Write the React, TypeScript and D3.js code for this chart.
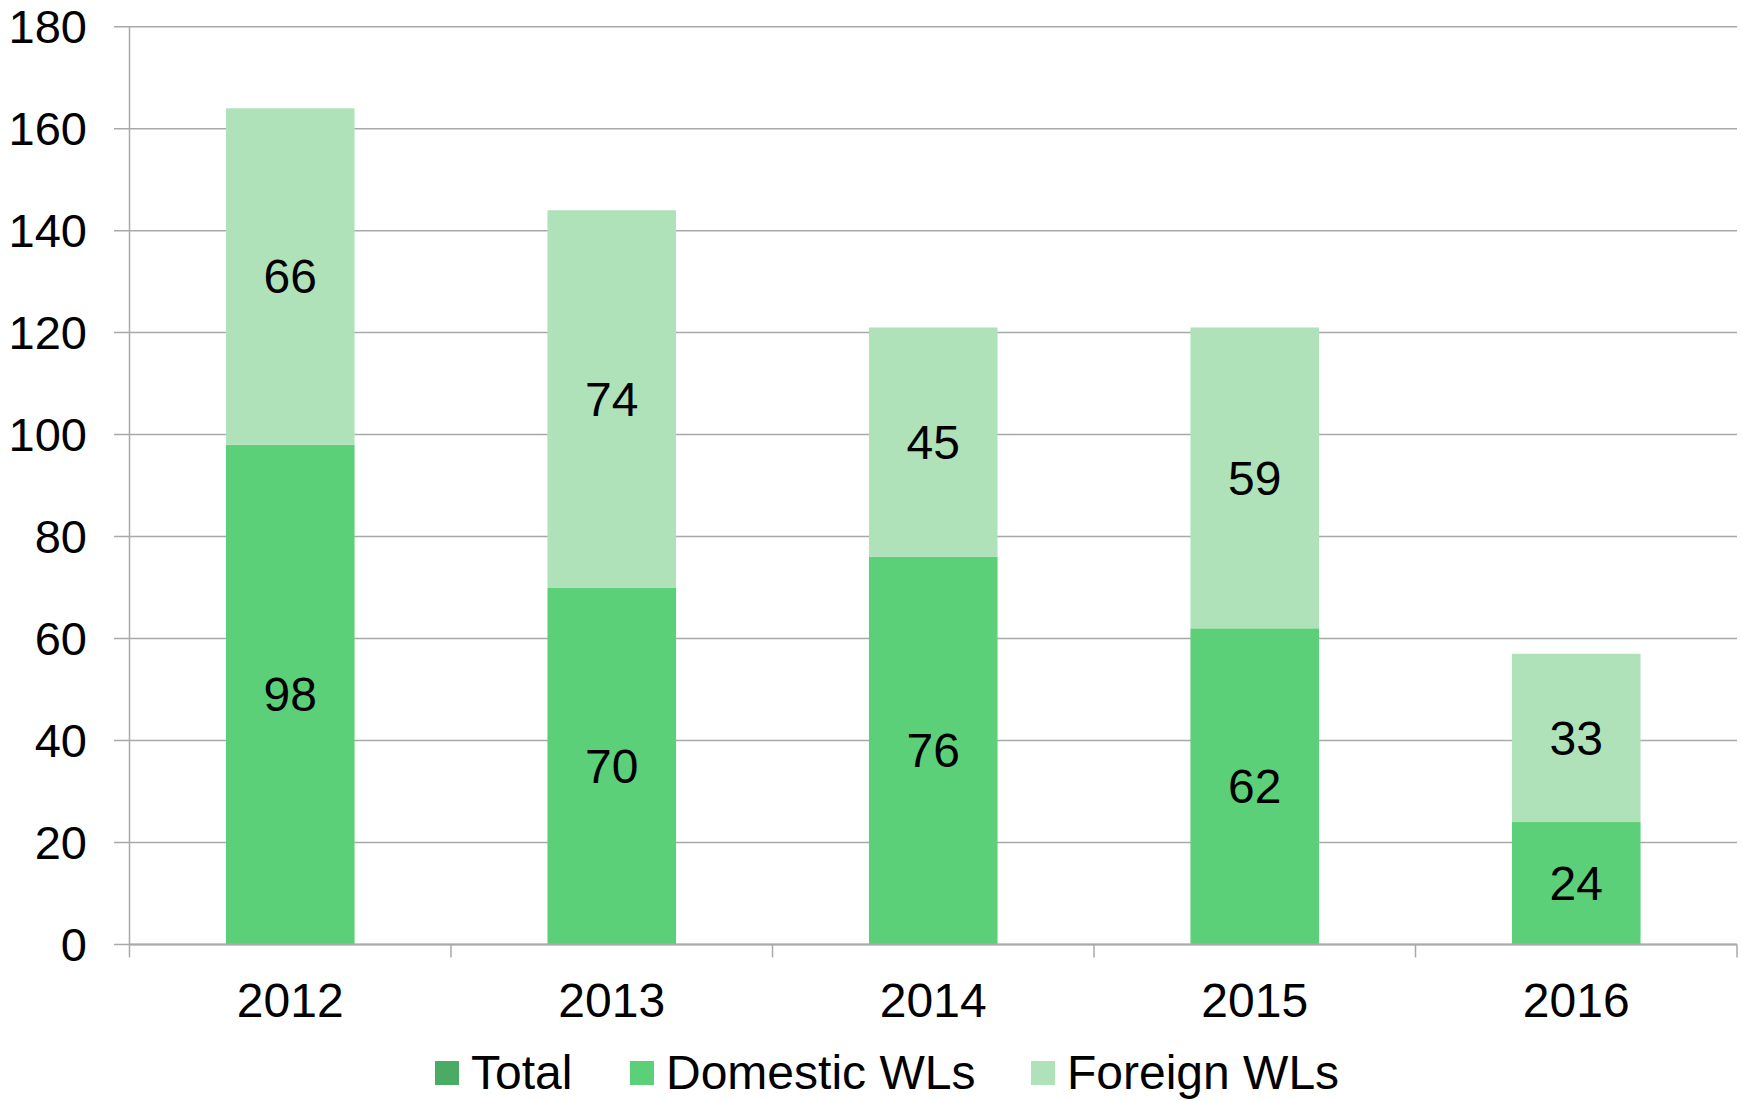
import React from "react";
import * as d3 from "d3";

const years = ["2012", "2013", "2014", "2015", "2016"];
const domestic = [98, 70, 76, 62, 24];
const foreign = [66, 74, 45, 59, 33];
const yTicks = [0, 20, 40, 60, 80, 100, 120, 140, 160, 180];
const legendItems = ["Total", "Domestic WLs", "Foreign WLs"];
const legendColors = ["#4aab64", "#5cd079", "#afe2b8"];

const W = 1742;
const H = 1101;
const left = 129.5;
const right = 1737;
const top = 26.7;
const bottom = 944.4;
const FONT = "'Liberation Sans', Arial, sans-serif";
const FS = 48;

export default function App() {
  const x = d3.scaleBand<string>().domain(years).range([left, right]).paddingInner(0.6).paddingOuter(0.3);
  const y = d3.scaleLinear().domain([0, 180]).range([bottom, top]);
  const band = (right - left) / years.length;
  const stack = d3.stack<number>().keys(["d", "f"]).value((i, k) => (k === "d" ? domestic[i] : foreign[i]))(
    years.map((_, i) => i)
  );
  const segColors = [legendColors[1], legendColors[2]];
  const legendX = [435, 630, 1031];
  return (
    <svg width={W} height={H} style={{ position: "absolute", left: 0, top: 0, background: "#fff" }} fontFamily={FONT}>
      {yTicks.map((t) => (
        <g key={t}>
          <line x1={114} x2={right} y1={y(t)} y2={y(t)} stroke="#a9a9a9" strokeWidth={1.5} />
          <text x={87} y={y(t)} dy="0.35em" textAnchor="end" fontSize={47} fill="#000">
            {t}
          </text>
        </g>
      ))}
      <line x1={left} x2={left} y1={top} y2={bottom} stroke="#a9a9a9" strokeWidth={1.5} />
      {stack.map((s, si) =>
        s.map((d, i) => (
          <g key={`${si}-${i}`}>
            <rect
              x={x(years[i])!}
              width={x.bandwidth()}
              y={y(d[1])}
              height={y(d[0]) - y(d[1])}
              fill={segColors[si]}
            />
            <text
              x={x(years[i])! + x.bandwidth() / 2}
              y={(y(d[0]) + y(d[1])) / 2}
              dy="0.35em"
              textAnchor="middle"
              fontSize={FS}
              fill="#000"
            >
              {si === 0 ? domestic[i] : foreign[i]}
            </text>
          </g>
        ))
      )}
      <line x1={left} x2={right} y1={bottom} y2={bottom} stroke="#a9a9a9" strokeWidth={2} />
      {d3.range(years.length + 1).map((i) => (
        <line key={i} x1={left + i * band} x2={left + i * band} y1={bottom} y2={bottom + 13} stroke="#a9a9a9" strokeWidth={1.5} />
      ))}
      {years.map((yr) => (
        <text key={yr} x={x(yr)! + x.bandwidth() / 2} y={1017} textAnchor="middle" fontSize={FS} fill="#000">
          {yr}
        </text>
      ))}
      {legendItems.map((l, i) => (
        <g key={l}>
          <rect x={legendX[i]} y={1061} width={24} height={24} fill={legendColors[i]} />
          <text x={legendX[i] + 36} y={1089} fontSize={FS} fill="#000">
            {l}
          </text>
        </g>
      ))}
    </svg>
  );
}
